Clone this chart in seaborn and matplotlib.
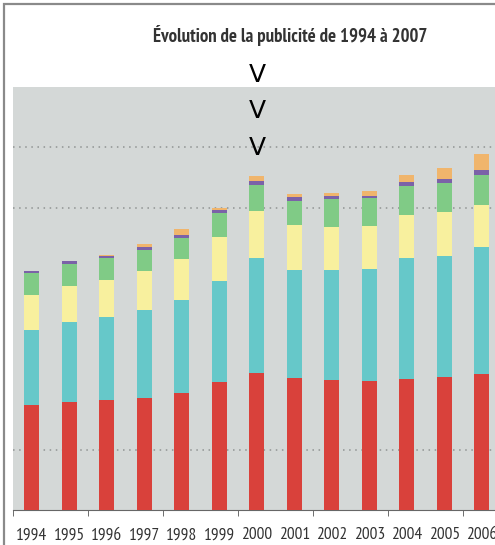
import pandas as pd
import matplotlib.pyplot as plt
import seaborn as sns
from matplotlib.patches import Rectangle

# Values (millions of euros, estimated)
years = ['1994', '1995', '1996', '1997', '1998', '1999', '2000',
         '2001', '2002', '2003', '2004', '2005', '2006']
red = [8680, 8950, 9070, 9260, 9650, 10600, 11320, 10930, 10770, 10640, 10850, 10990, 11220]
teal = [6200, 6640, 6860, 7300, 7690, 8350, 9560, 8900, 9090, 9340, 10000, 10060, 10520]
yellow = [2920, 2980, 3060, 3220, 3440, 3610, 3830, 3740, 3590, 3520, 3590, 3580, 3530]
green = [1770, 1790, 1820, 1770, 1740, 1980, 2170, 2020, 2260, 2290, 2360, 2450, 2480]
purple = [190, 220, 215, 215, 220, 270, 330, 300, 305, 225, 305, 275, 355]
orange = [0, 40, 115, 225, 495, 165, 390, 280, 190, 355, 605, 965, 1320]

layers = [red, teal, yellow, green, purple, orange]
colors = ['#d9413b', '#66c8c9', '#f8f09e', '#80cb86', '#7b62a8', '#f0b56c']

df = pd.DataFrame({'year': years})
running = [0] * len(years)
cum_cols = []
for i, layer in enumerate(layers):
    running = [a + b for a, b in zip(running, layer)]
    df[f'cum{i}'] = running
    cum_cols.append(f'cum{i}')

fig = plt.figure(figsize=(4.95, 5.45), dpi=100)
ax = fig.add_axes([13 / 495, 35 / 545, 1 - 13 / 495, 423 / 545])
ax.set_facecolor('#d4d8d7')

# draw stacks from the top layer down so each covers the one above
for col, c in reversed(list(zip(cum_cols, colors))):
    sns.barplot(data=df, x='year', y=col, color=c, width=0.4,
                saturation=1, ax=ax, zorder=3)

ax.set_xlim(-0.5, 12.353)
ax.set_ylim(0, 35000)
for g in [5000, 25000, 30000]:
    ax.axhline(g, color='#8f9392', linestyle=(0, (1, 3)), linewidth=1.1, zorder=1)

ax.set_xlabel('')
ax.set_ylabel('')
ax.set_yticks([])
ax.tick_params(axis='x', length=0, pad=12.5, labelsize=12.5, colors='#333333')
for lab in ax.get_xticklabels():
    lab.set_family(['PT Sans Narrow', 'DejaVu Sans'])
ax.set_xticks([-0.5, 1.5, 3.5, 5.5, 7.5, 9.5, 11.5], minor=True)
ax.tick_params(axis='x', which='minor', length=4, color='#555555')
for s in ['left', 'top', 'right']:
    ax.spines[s].set_visible(False)
ax.spines['bottom'].set_color('#666666')

fig.text(290 / 495, 1 - 35 / 545, 'Évolution de la publicité de 1994 à 2007',
         ha='center', va='center', fontsize=13.5, fontweight='bold',
         color='#333333', family=['PT Sans Narrow', 'DejaVu Sans'])

for ypx in [75, 111, 148]:
    fig.text(257 / 495, 1 - ypx / 545, 'V', ha='center', va='center',
             fontsize=18, color='black')

# outer frame of the screenshot
fig.patches.append(Rectangle((4 / 495, -0.1), 1.2, 1.1 - 4 / 545, transform=fig.transFigure,
                             fill=False, edgecolor='#8a8a8a', linewidth=1.6))

fig.savefig('out.png', dpi=100)
